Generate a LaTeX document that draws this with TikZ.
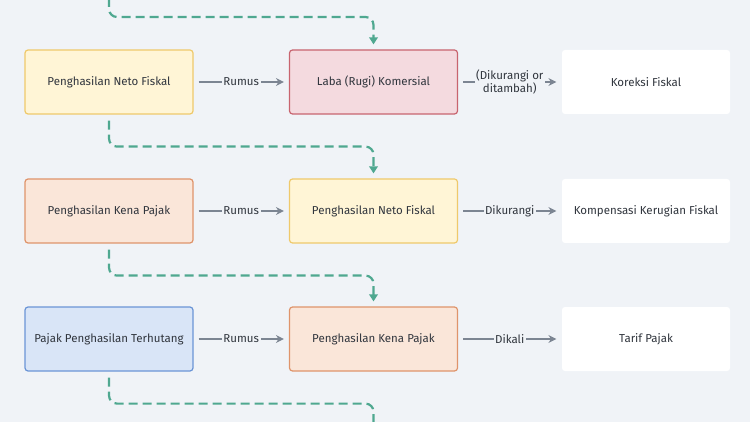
\documentclass[tikz,border=0pt]{standalone}
\usepackage{fontspec}
\setmainfont{Fira Sans}
\usetikzlibrary{arrows.meta}
\definecolor{bgc}{HTML}{F0F3F7}
\definecolor{yelF}{HTML}{FFF5D6}
\definecolor{yelD}{HTML}{EFC96B}
\definecolor{redF}{HTML}{F4DADF}
\definecolor{redD}{HTML}{C8646F}
\definecolor{oraF}{HTML}{FAE6D9}
\definecolor{oraD}{HTML}{DF946B}
\definecolor{bluF}{HTML}{D9E5F7}
\definecolor{bluD}{HTML}{6B95D6}
\definecolor{teal}{HTML}{4FA890}
\definecolor{grayA}{HTML}{7C8592}
\definecolor{txt}{HTML}{30353D}
\begin{document}
\begin{tikzpicture}[x=1pt,y=-1pt,
  font=\fontsize{11.5}{13.5}\selectfont, text=txt,
  box/.style={rounded corners=3pt, minimum width=168pt, minimum height=64pt, inner sep=0pt, line width=1.2pt, align=center},
  yel/.style={box, fill=yelF, draw=yelD},
  red/.style={box, fill=redF, draw=redD},
  ora/.style={box, fill=oraF, draw=oraD},
  blu/.style={box, fill=bluF, draw=bluD},
  wht/.style={box, fill=white},
  rel/.style={draw=grayA, line width=2.4pt, -{Stealth[length=8pt,width=8pt]}, shorten <=5pt, shorten >=5pt},
  lab/.style={fill=bgc, inner sep=1.5pt, text=txt, align=center, font=\fontsize{11.5}{13.5}\selectfont},
  flow/.style={draw=teal, line width=2.2pt, dash pattern=on 9pt off 5pt, rounded corners=8pt, -{Triangle[length=7pt,width=8.5pt]}},
]
\fill[bgc] (0,0) rectangle (750,422);
\useasboundingbox (0,0) rectangle (750,422);

\node[yel] (a1) at (109,82) {Penghasilan Neto Fiskal};
\node[red] (b1) at (373.5,82) {Laba (Rugi) Komersial};
\node[wht] (c1) at (646,82) {Koreksi Fiskal};

\node[ora] (a2) at (109,211) {Penghasilan Kena Pajak};
\node[yel] (b2) at (373.5,211) {Penghasilan Neto Fiskal};
\node[wht] (c2) at (646,211) {Kompensasi Kerugian Fiskal};

\node[blu] (a3) at (109,339) {Pajak Penghasilan Terhutang};
\node[ora] (b3) at (373.5,339) {Penghasilan Kena Pajak};
\node[wht] (c3) at (646,339) {Tarif Pajak};

\draw[rel] (a1) -- node[lab] {Rumus} (b1);
\draw[rel] (b1) -- node[lab] {(Dikurangi or\\ditambah)} (c1);
\draw[rel] (a2) -- node[lab] {Rumus} (b2);
\draw[rel] (b2) -- node[lab] {Dikurangi} (c2);
\draw[rel] (a3) -- node[lab] {Rumus} (b3);
\draw[rel] (b3) -- node[lab] {Dikali} (c3);

\coordinate (topin) at (109,-2);
\coordinate (botout) at (373.5,424);
\draw[flow, shorten >=5pt] (topin) -- ++(0,19) -| (b1.north);
\draw[flow, shorten <=6pt, shorten >=5pt] (a1.south) -- ++(0,32) -| (b2.north);
\draw[flow, shorten <=6pt, shorten >=5pt] (a2.south) -- ++(0,32) -| (b3.north);
\draw[flow, -] (a3.south) ++(0,6) -- ++(0,26) -| (botout);
\end{tikzpicture}
\end{document}
